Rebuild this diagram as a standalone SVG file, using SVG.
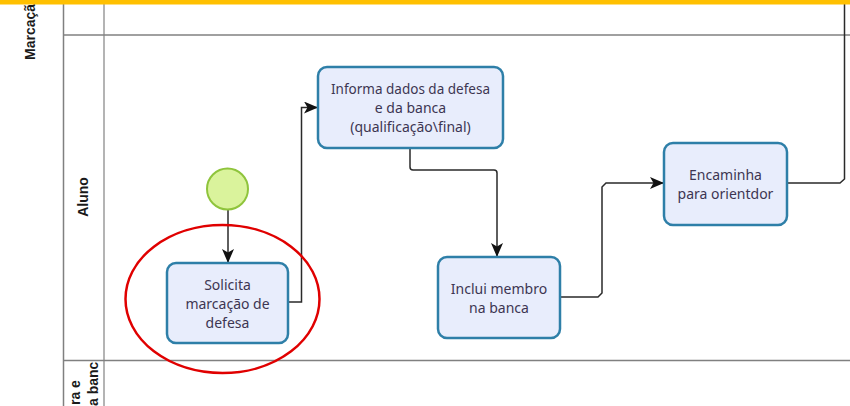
<svg xmlns="http://www.w3.org/2000/svg" width="850" height="406" viewBox="0 0 850 406">
<style>
.lane{fill:none;stroke:#808080;stroke-width:1.5}
.lane2{fill:none;stroke:#b4b4b4;stroke-width:2}
.lbl{font-family:"Liberation Sans",Arial,sans-serif;font-weight:bold;font-size:14px;fill:#1a1a1a}
.task rect{fill:#e8edfc;stroke:#2e7fa8;stroke-width:2.5}
.task text{font-family:"Noto Sans","Open Sans",sans-serif;font-size:14px;fill:#3d3652;text-anchor:middle}
.conn{fill:none;stroke:#2a2a2a;stroke-width:1.5}
</style>
<defs>
<marker id="arr" viewBox="0 0 14 12" refX="14" refY="6" markerWidth="14" markerHeight="12" markerUnits="userSpaceOnUse" orient="auto">
<path d="M0,0 L14,6 L0,12 L3.5,6 z" fill="#111"/>
</marker>
</defs>
<rect width="850" height="406" fill="#fff"/>
<g id="lanes">
<line class="lane" x1="63.5" y1="4" x2="63.5" y2="406"/>
<line class="lane2" x1="104" y1="4" x2="104" y2="406"/>
<line class="lane" x1="63" y1="35" x2="850" y2="35"/>
<line class="lane" x1="63" y1="360.5" x2="850" y2="360.5"/>
<text class="lbl" transform="translate(35,60) rotate(-90)">Marcaçã</text>
<text class="lbl" text-anchor="middle" transform="translate(88,197) rotate(-90)">Aluno</text>
<text class="lbl" transform="translate(80,405) rotate(-90)">ra e</text>
<text class="lbl" transform="translate(98,406) rotate(-90)">a banc</text>
</g>
<g id="connectors">
<path class="conn" d="M228,210 L228,263" marker-end="url(#arr)"/>
<path class="conn" d="M288,302 L301.5,302 L301.5,107.5 L318,107.5" marker-end="url(#arr)"/>
<path class="conn" d="M410,148 L410,167 Q410,170 413,170 L494,170 Q497,170 497,173 L497,257" marker-end="url(#arr)"/>
<path class="conn" d="M560,297 L598,297 L602,293 L602,187 L606,183 L664,183" marker-end="url(#arr)"/>
<path class="conn" d="M787,183 L840,183 L844.5,179 L844.5,4"/>
</g>
<g id="start">
<circle cx="227.5" cy="189" r="20.5" fill="#daf39c" stroke="#8fc43c" stroke-width="2"/>
</g>
<g id="solicita" class="task">
<rect x="167" y="263" width="121" height="80" rx="9"/>
<text x="227.5" y="290">Solicita</text>
<text x="227.5" y="309">marcação de</text>
<text x="227.5" y="328">defesa</text>
</g>
<g id="informa" class="task">
<rect x="318" y="67" width="185" height="81" rx="9"/>
<text x="410.5" y="94" style="font-size:13.5px">Informa dados da defesa</text>
<text x="410.5" y="113">e da banca</text>
<text x="410.5" y="132">(qualificação\final)</text>
</g>
<g id="inclui" class="task">
<rect x="438" y="257" width="122" height="81" rx="9"/>
<text x="499" y="294">Inclui membro</text>
<text x="499" y="313">na banca</text>
</g>
<g id="encaminha" class="task">
<rect x="664" y="143" width="123" height="82" rx="9"/>
<text x="725.5" y="180">Encaminha</text>
<text x="725.5" y="199">para orientdor</text>
</g>
<g id="highlight">
<ellipse cx="222.5" cy="299" rx="97" ry="74" fill="none" stroke="#e00000" stroke-width="2.5"/>
</g>
<rect id="topbar" x="0" y="0" width="850" height="4.5" fill="#ffc000"/>
</svg>
